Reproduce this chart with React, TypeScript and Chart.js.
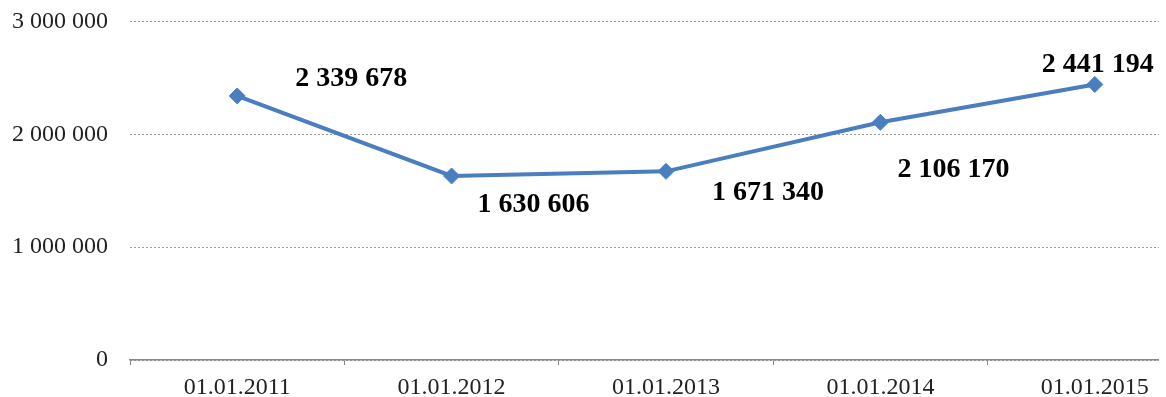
import React, { useEffect, useRef } from "react";
import { Chart, registerables } from "chart.js";

Chart.register(...registerables);

const categories = ["01.01.2011", "01.01.2012", "01.01.2013", "01.01.2014", "01.01.2015"];
const values = [2339678, 1630606, 1671340, 2106170, 2441194];
const yTicks = [0, 1000000, 2000000, 3000000];
// label placement relative to each point (dx, dy of the text centre)
const labelOffsets = [
  [114, -19],
  [82, 27],
  [102, 19],
  [73, 45],
  [3, -22],
];

const fmt = (n: number) => String(Math.round(n)).replace(/\B(?=(\d{3})+(?!\d))/g, " ");

const SERIF = '"Liberation Serif", "Times New Roman", serif';
const LINE = "#4A7EBF";

const labelPlugin = {
  id: "pointValueLabels",
  afterDatasetsDraw(chart: any) {
    const meta = chart.getDatasetMeta(0);
    const ctx = chart.ctx;
    ctx.save();
    ctx.font = `bold 28px ${SERIF}`;
    ctx.fillStyle = "#000";
    ctx.textAlign = "center";
    ctx.textBaseline = "alphabetic";
    meta.data.forEach((el: any, i: number) => {
      const [dx, dy] = labelOffsets[i];
      ctx.fillText(fmt(values[i]), el.x + dx, el.y + dy + 9.5);
    });
    ctx.restore();
  },
};

export default function App() {
  const ref = useRef<HTMLCanvasElement | null>(null);

  useEffect(() => {
    if (!ref.current) return;
    const chart = new Chart(ref.current, {
      type: "line",
      data: {
        labels: categories,
        datasets: [
          {
            data: values,
            borderColor: LINE,
            backgroundColor: LINE,
            borderWidth: 4,
            pointStyle: "rectRot",
            pointRadius: 8,
            pointBorderWidth: 1,
            pointBackgroundColor: LINE,
            pointBorderColor: LINE,
            tension: 0,
            fill: false,
          },
        ],
      },
      options: {
        responsive: false,
        animation: false,
        layout: { padding: { top: 6, left: 0, right: 0, bottom: 0 } },
        plugins: {
          legend: { display: false },
          tooltip: { enabled: false },
        },
        scales: {
          x: {
            type: "category",
            offset: true,
            grid: {
              display: true,
              offset: true,
              drawOnChartArea: false,
              drawTicks: true,
              tickLength: 5,
              color: "#868686",
            },
            border: { display: true, color: "#868686", width: 1.5 },
            ticks: {
              color: "#222",
              font: { family: SERIF, size: 24 },
              padding: 8,
              maxRotation: 0,
              autoSkip: false,
            },
            afterFit: (s: any) => {
              s.height = 37;
            },
          },
          y: {
            min: 0,
            max: 3000000,
            afterBuildTicks: (s: any) => {
              s.ticks = yTicks.map((v) => ({ value: v }));
            },
            grid: {
              color: "#9a9a9a",
              lineWidth: 1,
              drawTicks: false,
            },
            border: { display: false, dash: [2, 2] },
            ticks: {
              color: "#222",
              font: { family: SERIF, size: 24 },
              padding: 22,
              callback: (v: any) => fmt(Number(v)),
            },
            afterFit: (s: any) => {
              s.width = 130;
            },
          },
        },
      },
      plugins: [labelPlugin],
    });
    return () => chart.destroy();
  }, []);

  return (
    <div
      style={{
        position: "fixed",
        left: 0,
        top: 0,
        width: 1159,
        height: 397,
        overflow: "hidden",
        background: "#fff",
      }}
    >
      <canvas
        ref={ref}
        width={1211}
        height={412}
        style={{ display: "block", position: "absolute", left: 0, top: -15 }}
      />
    </div>
  );
}
